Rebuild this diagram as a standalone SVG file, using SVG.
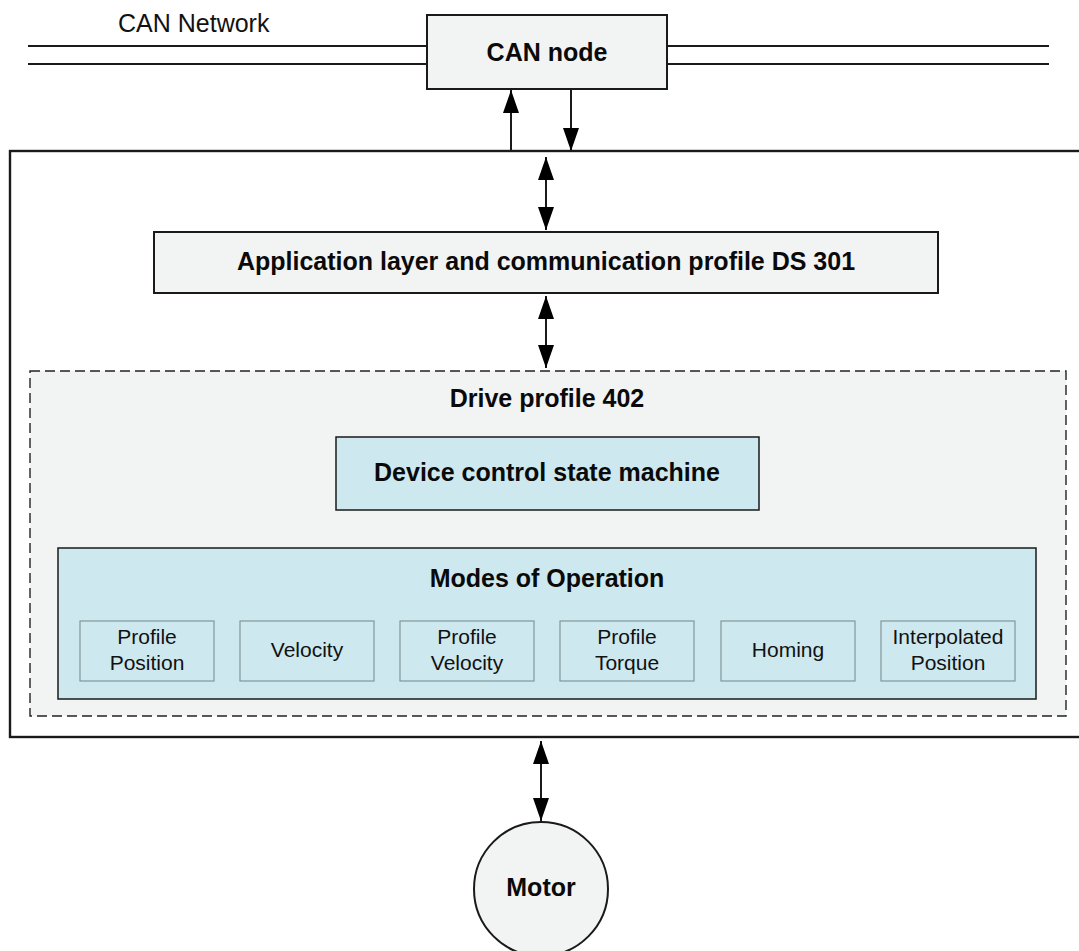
<svg xmlns="http://www.w3.org/2000/svg" width="1079" height="951" viewBox="0 0 1079 951">
  <style>
    .box { fill: #f2f3f3; stroke: #1a1a1a; stroke-width: 2; }
    .blue { fill: #cde8ee; stroke: #1a1a1a; stroke-width: 1.5; }
    .mode { fill: #cde8ee; stroke: #82969b; stroke-width: 1.2; }
    .wire { fill: none; stroke: #1a1a1a; stroke-width: 2; }
    .title { font-family: "Liberation Sans", Arial, sans-serif; font-weight: bold; fill: #0a0a0a; text-anchor: middle; font-size: 25px; }
    .label { font-family: "Liberation Sans", Arial, sans-serif; fill: #111; text-anchor: middle; font-size: 21px; }
  </style>
  <defs>
    <marker id="head" markerUnits="userSpaceOnUse" markerWidth="24" markerHeight="16" refX="23" refY="8" orient="auto-start-reverse">
      <path d="M0,0 L23,8 L0,16 z" fill="#000"/>
    </marker>
  </defs>

  <rect width="1079" height="951" fill="#ffffff"/>

  <!-- CAN bus lines -->
  <g id="can-network">
    <line x1="28" y1="46" x2="427" y2="46" class="wire" stroke-width="1.6"/>
    <line x1="28" y1="64" x2="427" y2="64" class="wire" stroke-width="1.6"/>
    <line x1="667" y1="46" x2="1049" y2="46" class="wire" stroke-width="1.6"/>
    <line x1="667" y1="64" x2="1049" y2="64" class="wire" stroke-width="1.6"/>
    <text x="118" y="32" font-family="Liberation Sans, Arial, sans-serif" font-size="25" fill="#111">CAN Network</text>
  </g>

  <g id="can-node">
    <rect x="427" y="15" width="240" height="74" class="box" stroke-width="1.5"/>
    <text x="547" y="61" class="title">CAN node</text>
  </g>

  <!-- drive enclosure -->
  <g id="drive">
    <rect x="10" y="151" width="1100" height="586" fill="#ffffff" stroke="#1a1a1a" stroke-width="2.4"/>
  </g>

  <g id="app-layer">
    <rect x="154" y="232" width="784" height="61" class="box"/>
    <text x="546" y="270" class="title">Application layer and communication profile DS 301</text>
  </g>

  <g id="drive-profile">
    <rect x="30" y="371" width="1036" height="345" fill="#f2f3f3" stroke="#222" stroke-width="1.4" stroke-dasharray="10,5"/>
    <text x="547" y="407" class="title">Drive profile 402</text>
  </g>

  <g id="device-control">
    <rect x="336" y="437" width="423" height="73" class="blue"/>
    <text x="547" y="481" class="title">Device control state machine</text>
  </g>

  <g id="modes">
    <rect x="58" y="548" width="978" height="151" class="blue"/>
    <text x="547" y="587" class="title">Modes of Operation</text>
  </g>

  <g id="mode-profile-position">
    <rect x="80" y="621" width="134" height="60" class="mode"/>
    <text x="147" y="644" class="label">Profile</text>
    <text x="147" y="670" class="label">Position</text>
  </g>
  <g id="mode-velocity">
    <rect x="240" y="621" width="134" height="60" class="mode"/>
    <text x="307" y="657" class="label">Velocity</text>
  </g>
  <g id="mode-profile-velocity">
    <rect x="400" y="621" width="134" height="60" class="mode"/>
    <text x="467" y="644" class="label">Profile</text>
    <text x="467" y="670" class="label">Velocity</text>
  </g>
  <g id="mode-profile-torque">
    <rect x="560" y="621" width="134" height="60" class="mode"/>
    <text x="627" y="644" class="label">Profile</text>
    <text x="627" y="670" class="label">Torque</text>
  </g>
  <g id="mode-homing">
    <rect x="721" y="621" width="134" height="60" class="mode"/>
    <text x="788" y="657" class="label">Homing</text>
  </g>
  <g id="mode-interpolated-position">
    <rect x="881" y="621" width="134" height="60" class="mode"/>
    <text x="948" y="644" class="label">Interpolated</text>
    <text x="948" y="670" class="label">Position</text>
  </g>

  <g id="motor">
    <circle cx="541" cy="889" r="67" class="box" stroke-width="2.4"/>
    <text x="541" y="896" class="title">Motor</text>
  </g>

  <!-- connectors -->
  <g id="connectors">
    <line x1="511" y1="151" x2="511" y2="90" class="wire" marker-end="url(#head)"/>
    <line x1="571" y1="90" x2="571" y2="151" class="wire" marker-end="url(#head)"/>
    <line x1="546" y1="157" x2="546" y2="230" class="wire" marker-start="url(#head)" marker-end="url(#head)"/>
    <line x1="546" y1="296" x2="546" y2="368" class="wire" marker-start="url(#head)" marker-end="url(#head)"/>
    <line x1="541" y1="741" x2="541" y2="821" class="wire" marker-start="url(#head)" marker-end="url(#head)"/>
  </g>
</svg>
